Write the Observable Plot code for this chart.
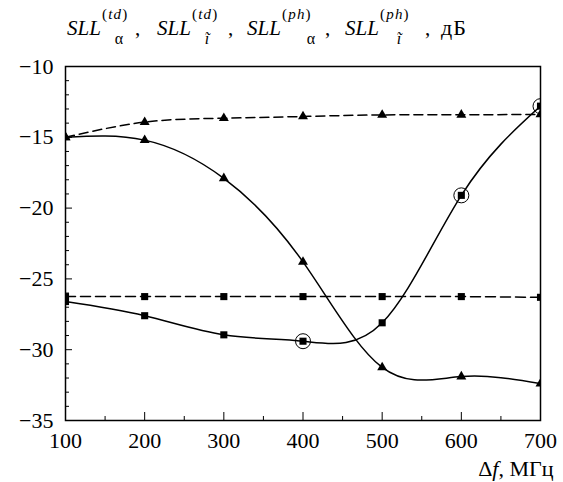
<!DOCTYPE html>
<html>
<head>
<meta charset="utf-8">
<script src="https://cdn.jsdelivr.net/npm/d3@7"></script>
<script src="https://cdn.jsdelivr.net/npm/@observablehq/plot@0.6"></script>
<style>
  html, body { margin: 0; padding: 0; background: #fff; }
  body { width: 563px; height: 482px; overflow: hidden; font-family: "Liberation Serif", "Times New Roman", serif; color: #000; }
  #title { position: relative; height: 46px; }
  #title span { position: absolute; white-space: nowrap; }
  #title .s { top: 18px; font-size: 21px; line-height: 21px; font-style: italic; }
  #title .cm { top: 18px; font-size: 21px; line-height: 21px; }
  #title .u { top: 17px; font-size: 22px; line-height: 22px; letter-spacing: 1px; }
  #title .sp { top: 7px; font-size: 15px; line-height: 15px; letter-spacing: 1.2px; }
  #title .sb { top: 31px; font-size: 16px; line-height: 16px; transform: translateX(-50%); }
  svg { display: block; }
</style>
</head>
<body>
<div id="title"></div>
<div id="chart"></div>
<script>
// Data
const freq = [100, 200, 300, 400, 500, 600, 700];
const triDashed = [-15.0, -13.93, -13.65, -13.53, -13.42, -13.41, -13.38];
const triSolid = [-15.0, -15.2, -17.9, -23.8, -31.25, -31.9, -32.4];
const sqDashed = [-26.25, -26.25, -26.25, -26.25, -26.25, -26.25, -26.3];
const sqSolid = [-26.6, -27.6, -28.95, -29.4, -28.1, -19.1, -12.8];
const circledFreq = [400, 600, 700];
const circledVal = [-29.4, -19.1, -12.8];
const xTicks = [100, 200, 300, 400, 500, 600, 700];
const xMinor = [150, 250, 350, 450, 550, 650];
const yTicks = [-10, -15, -20, -25, -30, -35];
const yMinor = d3.range(-34, -10).filter(v => v % 5 !== 0);

// Title pieces
const titleSup = ["td", "td", "ph", "ph"];
const titleSub = ["α", "ĩ", "α", "ĩ"];
const titleSubItalic = [false, true, false, true];
const titleUnit = "дБ";
const xCaption = "Δf, МГц";

// Title layout (pixel positions of text pieces)
const termLeft = [67, 157, 247, 345];
const subCenter = [119, 207, 311, 399];
const commaLeft = [135, 228, 325, 425];
const unitLeft = 441;

const title = document.getElementById("title");
titleSup.forEach((sup, i) => {
  const s = document.createElement("span"); s.className = "s"; s.style.left = termLeft[i] + "px"; s.textContent = "SLL"; title.appendChild(s);
  const p = document.createElement("span"); p.className = "sp"; p.style.left = (termLeft[i] + 35) + "px";
  p.innerHTML = "(<i>" + sup + "</i>)"; title.appendChild(p);
  const b = document.createElement("span"); b.className = "sb"; b.style.left = subCenter[i] + "px";
  b.style.fontStyle = titleSubItalic[i] ? "italic" : "normal"; b.textContent = titleSub[i]; title.appendChild(b);
  const c = document.createElement("span"); c.className = "cm"; c.style.left = commaLeft[i] + "px"; c.textContent = ","; title.appendChild(c);
});
const u = document.createElement("span"); u.className = "u"; u.style.left = unitLeft + "px"; u.textContent = titleUnit; title.appendChild(u);

const mk = vals => freq.map((f, i) => ({f, v: vals[i]}));
const dTriDash = mk(triDashed), dTriSolid = mk(triSolid), dSqDash = mk(sqDashed), dSqSolid = mk(sqSolid);
const dCirc = circledFreq.map((f, i) => ({f, v: circledVal[i]}));

const yMin = -35, xMin = 100;

const chart = Plot.plot({
  width: 563,
  height: 436,
  marginLeft: 65,
  marginRight: 23,
  marginTop: 20,
  marginBottom: 62,
  style: {fontFamily: "'Liberation Serif', 'Times New Roman', serif", color: "#000", background: "#fff"},
  x: {domain: [100, 700]},
  y: {domain: [-35, -10]},
  marks: [
    Plot.axisX({ticks: xTicks, tickSize: 0, tickPadding: 12, label: null, fontSize: 22, tickFormat: d => String(d)}),
    Plot.axisY({ticks: yTicks, tickSize: 0, tickPadding: 12, label: null, fontSize: 22}),
    // inward ticks
    Plot.ruleX(xTicks, {x: d => d, y1: yMin, y2: yMin, insetTop: -8, stroke: "#000", strokeWidth: 1}),
    Plot.ruleX(xMinor, {x: d => d, y1: yMin, y2: yMin, insetTop: -4, stroke: "#000", strokeWidth: 1}),
    Plot.ruleY(yTicks, {y: d => d, x1: xMin, x2: xMin, insetRight: -7, stroke: "#000", strokeWidth: 1}),
    Plot.ruleY(yMinor, {y: d => d, x1: xMin, x2: xMin, insetRight: -4, stroke: "#000", strokeWidth: 1}),
    // lines
    Plot.line(dTriDash, {x: "f", y: "v", curve: "natural", stroke: "#000", strokeWidth: 1.5, strokeDasharray: "9,5", clip: "frame"}),
    Plot.line(dSqDash, {x: "f", y: "v", curve: "natural", stroke: "#000", strokeWidth: 1.5, strokeDasharray: "10,5", clip: "frame"}),
    Plot.line(dTriSolid, {x: "f", y: "v", curve: "natural", stroke: "#000", strokeWidth: 1.5, clip: "frame"}),
    Plot.line(dSqSolid, {x: "f", y: "v", curve: "natural", stroke: "#000", strokeWidth: 1.5, clip: "frame"}),
    // markers
    Plot.dot(dTriDash, {x: "f", y: "v", symbol: "triangle", r: 3.7, fill: "#000", stroke: "none", clip: "frame"}),
    Plot.dot(dTriSolid, {x: "f", y: "v", symbol: "triangle", r: 3.7, fill: "#000", stroke: "none", clip: "frame"}),
    Plot.dot(dSqDash, {x: "f", y: "v", symbol: "square", r: 4, fill: "#000", stroke: "none", clip: "frame"}),
    Plot.dot(dSqSolid, {x: "f", y: "v", symbol: "square", r: 4, fill: "#000", stroke: "none", clip: "frame"}),
    Plot.dot(dCirc, {x: "f", y: "v", r: 7.5, fill: "none", stroke: "#000", strokeWidth: 1, clip: "frame"}),
    Plot.frame({stroke: "#000", strokeWidth: 1.5}),
    // x-axis caption
    Plot.text([xCaption], {text: d => d, frameAnchor: "bottom-right", dx: 13, dy: 48, textAnchor: "end", lineAnchor: "middle", fontSize: 22, fill: "#000"})
  ]
});
// italic f in the caption
chart.querySelectorAll("text").forEach(t => {
  if (t.textContent === xCaption) {
    t.textContent = "";
    const parts = [["Δ", null], ["f", "italic"], [xCaption.slice(2), null]];
    parts.forEach(([s, st]) => {
      const ts = document.createElementNS("http://www.w3.org/2000/svg", "tspan");
      ts.textContent = s;
      if (st) ts.setAttribute("font-style", st);
      t.appendChild(ts);
    });
  }
});
document.getElementById("chart").appendChild(chart);
</script>
</body>
</html>
